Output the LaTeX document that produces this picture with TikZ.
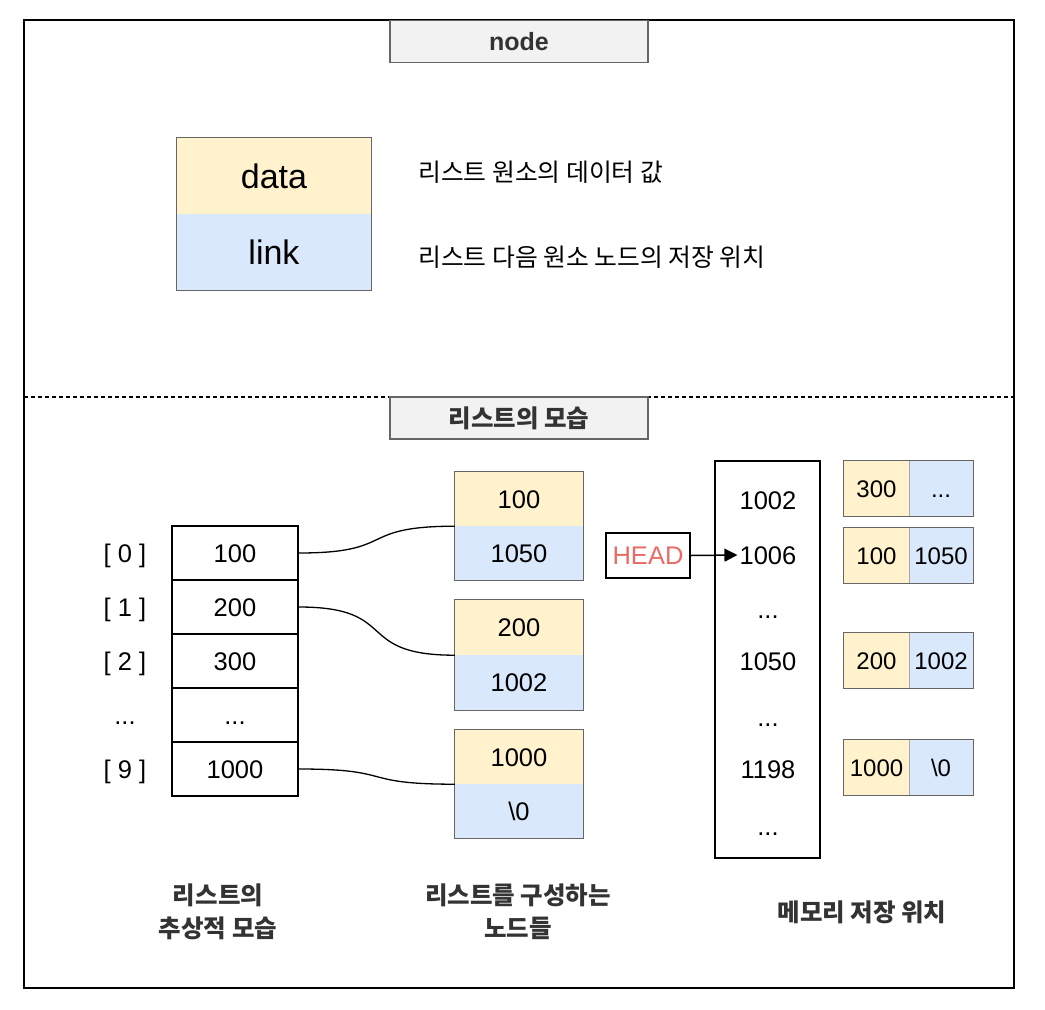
\documentclass[tikz,border=0pt]{standalone}
\usepackage{fontspec}
\setmainfont{Liberation Sans}
\newfontfamily\kr{Noto Sans CJK KR}
\usetikzlibrary{arrows.meta}
\definecolor{yel}{HTML}{FFF2CC}
\definecolor{blu}{HTML}{DAE8FC}
\definecolor{bord}{HTML}{666666}
\definecolor{ttl}{HTML}{F2F2F2}
\definecolor{ttltxt}{HTML}{333333}
\definecolor{headred}{HTML}{EA6B66}
\tikzset{
  titlebox/.style={draw=bord, line width=1.5pt, fill=ttl, minimum width=258pt, minimum height=42pt, inner sep=0pt, text=ttltxt, font=\fontsize{25}{29}\selectfont\bfseries},
  ycell/.style={fill=yel, inner sep=0pt, text height=18pt, text depth=0pt, font=\fontsize{25.5}{29}\selectfont},
  bcell/.style={fill=blu, inner sep=0pt, text height=18pt, text depth=0pt, font=\fontsize{25.5}{29}\selectfont},
  arrcell/.style={draw=black, line width=1.5pt, minimum width=126pt, minimum height=54pt, inner sep=0pt, text height=18pt, text depth=0pt, font=\fontsize{25.5}{29}\selectfont},
  plain/.style={inner sep=0pt, text height=18pt, text depth=0pt, font=\fontsize{25.5}{29}\selectfont},
  desc/.style={inner sep=0pt, anchor=west, font=\kr\fontsize{24.8}{29}\selectfont},
  caption/.style={inner sep=0pt, align=center, font=\kr\bfseries\fontsize{24.5}{33}\selectfont, text=ttltxt},
  link/.style={line width=1.3pt, out=0, in=180, looseness=1.6},
  sy/.style={fill=yel, inner sep=0pt, minimum width=65pt, minimum height=55pt, text height=17pt, text depth=0pt, font=\fontsize{24}{28}\selectfont},
  sb/.style={fill=blu, inner sep=0pt, minimum width=64pt, minimum height=55pt, text height=17pt, text depth=0pt, font=\fontsize{24}{28}\selectfont},
  divline/.style={draw=gray!70, line width=1pt},
  outline/.style={draw=bord, line width=1.3pt},
}
\begin{document}
\begin{tikzpicture}[x=1pt,y=-1pt]
\useasboundingbox (0,0) rectangle (1045,1010);
% outer frame
\draw[line width=2pt] (24,20) rectangle (1014,988);
\draw[line width=2pt, dash pattern=on 4pt off 3pt] (24,397) -- (1014,397);
% titles
\node[titlebox] (t1) at (519,41.5) {node};
\node[titlebox, font=\kr\bfseries\fontsize{24.5}{28}\selectfont] (t2) at (519,418) {리스트의 모습};

% node legend
\node[ycell, minimum width=194pt, minimum height=76pt, text height=24pt, font=\fontsize{34}{38}\selectfont] (ld) at (274,176) {data};
\node[bcell, minimum width=194pt, minimum height=76pt, text height=24pt, font=\fontsize{34}{38}\selectfont] (ll) at (274,252) {link};
\draw[outline] (ld.north west) rectangle (ll.south east);
\node[desc] (dd) at (418,172) {리스트 원소의 데이터 값};
\node[desc] (dl) at (418,257) {리스트 다음 원소 노드의 저장 위치};

% array
\node[arrcell] (r0) at (235,553) {100};
\node[arrcell] (r1) at (235,607) {200};
\node[arrcell] (r2) at (235,661) {300};
\node[arrcell] (r3) at (235,715) {...};
\node[arrcell] (r9) at (235,769) {1000};
\node[plain] (i0) at (125,553) {[ 0 ]};
\node[plain] (i1) at (125,607) {[ 1 ]};
\node[plain] (i2) at (125,661) {[ 2 ]};
\node[plain] (i3) at (125,715) {...};
\node[plain] (i9) at (125,769) {[ 9 ]};

% list nodes
\node[ycell, minimum width=128pt, minimum height=54pt] (n1d) at (519,499) {100};
\node[bcell, minimum width=128pt, minimum height=54pt] (n1l) at (519,553) {1050};
\draw[outline] (n1d.north west) rectangle (n1l.south east);
\node[ycell, minimum width=128pt, minimum height=55pt] (n2d) at (519,627.5) {200};
\node[bcell, minimum width=128pt, minimum height=55pt] (n2l) at (519,682.5) {1002};
\draw[outline] (n2d.north west) rectangle (n2l.south east);
\node[ycell, minimum width=128pt, minimum height=54pt] (n3d) at (519,757) {1000};
\node[bcell, minimum width=128pt, minimum height=54pt] (n3l) at (519,811) {\textbackslash 0};
\draw[outline] (n3d.north west) rectangle (n3l.south east);

% links
\draw[link] (r0.east) to (n1d.south west);
\draw[link] (r1.east) to (n2d.south west);
\draw[link] (r9.east) to (n3d.south west);

% memory
\node[draw=black, line width=1.5pt, minimum width=105pt, minimum height=397pt, inner sep=0pt] (mem) at (767.5,659.5) {};
\node[plain] (m1) at (768,500) {1002};
\node[plain] (m2) at (768,555) {1006};
\node[plain] (m3) at (768,609) {...};
\node[plain] (m4) at (768,661) {1050};
\node[plain] (m5) at (768,717) {...};
\node[plain] (m6) at (768,769) {1198};
\node[plain] (m7) at (768,826) {...};

% HEAD
\node[draw=black, line width=1.5pt, minimum width=84pt, minimum height=45pt, inner sep=0pt, text height=18pt, text depth=0pt, text=headred, font=\fontsize{25.5}{29}\selectfont] (head) at (648,555.5) {HEAD};
\draw[line width=1.5pt, -{Triangle[length=13pt, width=13pt]}] (head.east) -- ([xshift=-2pt]m2.west);

% memory contents
\node[sy] (say) at (876.5,488.5) {300};
\node[sb] (sab) at (941,488.5) {...};
\draw[divline] (say.north east) -- (say.south east);
\draw[outline] (say.north west) rectangle (sab.south east);
\node[sy] (sby) at (876.5,555.5) {100};
\node[sb] (sbb) at (941,555.5) {1050};
\draw[divline] (sby.north east) -- (sby.south east);
\draw[outline] (sby.north west) rectangle (sbb.south east);
\node[sy] (scy) at (876.5,660.5) {200};
\node[sb] (scb) at (941,660.5) {1002};
\draw[divline] (scy.north east) -- (scy.south east);
\draw[outline] (scy.north west) rectangle (scb.south east);
\node[sy] (sdy) at (876.5,767.5) {1000};
\node[sb] (sdb) at (941,767.5) {\textbackslash 0};
\draw[divline] (sdy.north east) -- (sdy.south east);
\draw[outline] (sdy.north west) rectangle (sdb.south east);

% captions
\node[caption] (c1) at (218,912) {리스트의\\추상적 모습};
\node[caption] (c2) at (518,912) {리스트를 구성하는\\노드들};
\node[caption] (c3) at (862,912) {메모리 저장 위치};
\end{tikzpicture}
\end{document}
